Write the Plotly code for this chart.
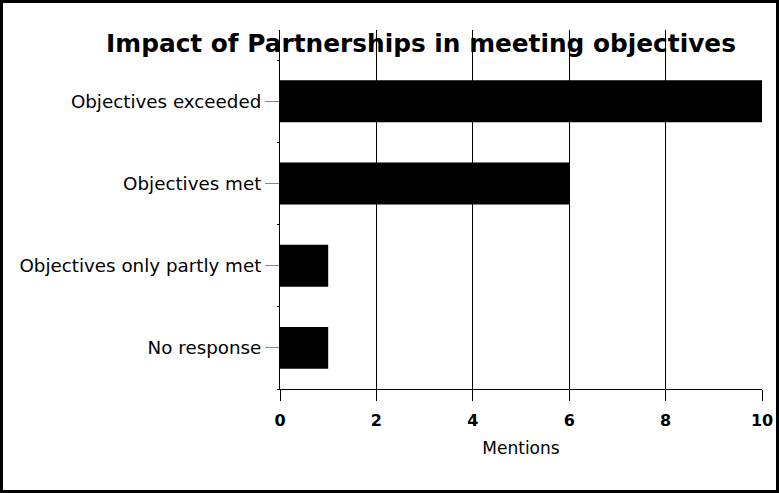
import plotly.graph_objects as go

categories = ["No response", "Objectives only partly met", "Objectives met", "Objectives exceeded"]
mentions = [1, 1, 6, 10]
x_ticks = [0, 2, 4, 6, 8, 10]

positions = list(range(len(categories)))

fig = go.Figure(go.Bar(
    y=positions, x=mentions, orientation="h",
    marker=dict(color="black", line=dict(width=0)),
    width=0.51,
))

L, R, T, B = 280, 762, 30, 389
W, H = 779, 493
pw, ph = R - L, B - T

def px(x):
    return (x - L) / pw

def py(y):
    return (B - y) / ph

FONT = "DejaVu Sans, Verdana, sans-serif"

fig.update_layout(
    width=W, height=H, autosize=False,
    margin=dict(l=L, r=W - R, t=T, b=H - B, pad=0, autoexpand=False),
    paper_bgcolor="white", plot_bgcolor="white",
    font=dict(family=FONT, color="black", size=16),
    title=dict(text="<b>Impact of Partnerships in meeting objectives</b>",
               x=421 / W, xanchor="center", y=1 - 43 / H, yanchor="middle",
               font=dict(size=24.8, color="black", family=FONT)),
    showlegend=False,
    shapes=[dict(type="rect", xref="paper", yref="paper",
                 x0=px(1.5), x1=px(777.5), y0=py(491.5), y1=py(1.5),
                 line=dict(color="black", width=3), layer="above")],
)
fig.update_xaxes(
    range=[0, 10], tickvals=x_ticks, ticktext=[f"<b>{v}</b>" for v in x_ticks],
    showgrid=True, gridcolor="black", gridwidth=1,
    showline=True, linecolor="black", linewidth=1, automargin=False,
    ticks="outside", ticklen=11, tickcolor="black", tickwidth=1,
    tickfont=dict(size=16), zeroline=False, ticklabelstandoff=6,
    title=dict(text="Mentions", font=dict(size=17), standoff=12),
)
fig.update_yaxes(
    range=[-0.5, 3.866], showline=True, linecolor="black", linewidth=1,
    showgrid=False, zeroline=False, automargin=False,
    tickvals=positions, ticktext=categories,
    ticks="outside", ticklen=14, tickcolor="#888888", tickwidth=1,
    tickfont=dict(size=18.3),
    minor=dict(tickvals=[-0.5, 0.5, 1.5, 2.5, 3.5], ticks="outside", ticklen=2,
               tickcolor="black", showgrid=False),
)

fig.write_html("out.html",
               config={"responsive": False, "displayModeBar": False},
               post_script="document.body.style.margin='0';document.body.style.overflow='hidden';")
